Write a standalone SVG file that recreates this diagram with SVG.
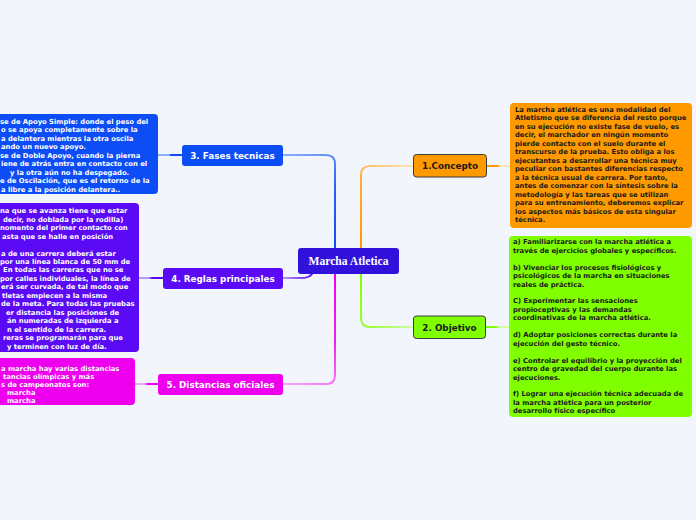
<svg xmlns="http://www.w3.org/2000/svg" width="696" height="520" viewBox="0 0 696 520">
<style>
.body{font-family:"DejaVu Sans",Verdana,sans-serif;font-weight:bold;font-size:6.8px}
.w{fill:#ffffff}
.k{fill:#1a1a1a}
.lbl{font-family:"DejaVu Sans",Verdana,sans-serif;font-weight:bold;font-size:8.8px;text-anchor:middle}
.ctr{font-family:"Liberation Serif","Times New Roman",serif;font-weight:bold;font-size:11.6px;text-anchor:middle;fill:#ffffff}
.con{fill:none;stroke-width:2;stroke-linecap:round}
</style>
<defs>
<linearGradient id="gBlue" gradientUnits="userSpaceOnUse" x1="283" y1="155" x2="335" y2="248"><stop offset="0" stop-color="#8eaefa"/><stop offset="0.5" stop-color="#2a63f6"/><stop offset="1" stop-color="#0d4df5"/></linearGradient>
<linearGradient id="gOrange" gradientUnits="userSpaceOnUse" x1="413" y1="166" x2="361" y2="248"><stop offset="0" stop-color="#fde3bd"/><stop offset="0.4" stop-color="#ffae3a"/><stop offset="1" stop-color="#ff9900"/></linearGradient>
<linearGradient id="gGreen" gradientUnits="userSpaceOnUse" x1="413" y1="327" x2="361" y2="274"><stop offset="0" stop-color="#d2fca6"/><stop offset="0.4" stop-color="#9cff3a"/><stop offset="1" stop-color="#80ff00"/></linearGradient>
<linearGradient id="gPurple" gradientUnits="userSpaceOnUse" x1="283" y1="278" x2="312" y2="274"><stop offset="0" stop-color="#b49af8"/><stop offset="1" stop-color="#5a0af5"/></linearGradient>
<linearGradient id="gMag" gradientUnits="userSpaceOnUse" x1="283" y1="384" x2="335" y2="274"><stop offset="0" stop-color="#f7a6f7"/><stop offset="0.5" stop-color="#ee22ee"/><stop offset="1" stop-color="#ee00ee"/></linearGradient>
<linearGradient id="sBlue" gradientUnits="userSpaceOnUse" x1="158" y1="0" x2="182" y2="0"><stop offset="0.45" stop-color="#8eaefa"/><stop offset="0.55" stop-color="#0d4df5"/></linearGradient>
<linearGradient id="sPurple" gradientUnits="userSpaceOnUse" x1="139" y1="0" x2="163" y2="0"><stop offset="0.4" stop-color="#b49af8"/><stop offset="0.55" stop-color="#5a0af5"/></linearGradient>
<linearGradient id="sMag" gradientUnits="userSpaceOnUse" x1="135" y1="0" x2="158" y2="0"><stop offset="0.4" stop-color="#f7a6f7"/><stop offset="0.55" stop-color="#ee00ee"/></linearGradient>
<linearGradient id="sOrange" gradientUnits="userSpaceOnUse" x1="487" y1="0" x2="510" y2="0"><stop offset="0.45" stop-color="#ff9900"/><stop offset="0.6" stop-color="#fde3bd"/></linearGradient>
<linearGradient id="sGreen" gradientUnits="userSpaceOnUse" x1="485" y1="0" x2="509" y2="0"><stop offset="0.45" stop-color="#80ff00"/><stop offset="0.6" stop-color="#d2fca6"/></linearGradient>
</defs>
<rect x="0" y="0" width="696" height="520" fill="#f3f5fd"/>

<g id="connectors">
<path class="con" stroke="url(#gBlue)" d="M283,155 H326 Q335,155 335,164 V248"/>
<path class="con" stroke="url(#gOrange)" d="M361,248 V175 Q361,166 370,166 H413"/>
<path class="con" stroke="url(#gGreen)" d="M361,274 V318 Q361,327 370,327 H413"/>
<path class="con" stroke="url(#gPurple)" d="M283,278 H301 Q309,278 312,274"/>
<path class="con" stroke="url(#gMag)" d="M335,274 V375 Q335,384 326,384 H283"/>
<path class="con" stroke="url(#sBlue)" d="M158,155 H182"/>
<path class="con" stroke="url(#sPurple)" d="M139,278 H163"/>
<path class="con" stroke="url(#sMag)" d="M135,384 H158"/>
<path class="con" stroke="url(#sOrange)" d="M487,166 H510"/>
<path class="con" stroke="url(#sGreen)" d="M485,327 H509"/>
</g>

<g id="center">
<rect x="298" y="248" width="101" height="26" rx="3" fill="#3311dd"/>
<text class="ctr" x="348.5" y="265">Marcha Atletica</text>
</g>

<g id="fases">
<rect x="182" y="145" width="101" height="21" rx="3" fill="#0d4df5"/>
<text class="lbl w" x="232.5" y="158.5">3. Fases tecnicas</text>
</g>
<g id="fases-detail">
<rect x="-20" y="114" width="178" height="80" rx="4" fill="#0d4df5"/>
<text class="body w">
<tspan x="0" y="123.5">se de Apoyo Simple: donde el peso del</tspan>
<tspan x="1" y="132">o se apoya completamente sobre la</tspan>
<tspan x="1" y="140.5">a delantera mientras la otra oscila</tspan>
<tspan x="1" y="149">ando un nuevo apoyo.</tspan>
<tspan x="0" y="157.5">se de Doble Apoyo, cuando la pierna</tspan>
<tspan x="1" y="166">iene de atrás entra en contacto con el</tspan>
<tspan x="10" y="174.5">y la otra aún no ha despegado.</tspan>
<tspan x="0" y="183">e de Oscilación, que es el retorno de la</tspan>
<tspan x="1" y="191.5">a libre a la posición delantera..</tspan>
</text>
</g>

<g id="reglas">
<rect x="163" y="268" width="120" height="21" rx="3" fill="#5a0af5"/>
<text class="lbl w" x="223" y="281.5">4. Reglas principales</text>
</g>
<g id="reglas-detail">
<rect x="-20" y="203" width="159" height="149" rx="4" fill="#5a0af5"/>
<text class="body w">
<tspan x="0" y="213.3">na que se avanza tiene que estar</tspan>
<tspan x="3" y="221.75">decir, no doblada por la rodilla)</tspan>
<tspan x="0" y="230.2">nomento del primer contacto con</tspan>
<tspan x="2" y="238.65">asta que se halle en posición</tspan>
<tspan x="1" y="255.55">a de una carrera deberá estar</tspan>
<tspan x="0" y="264">por una línea blanca de 50 mm de</tspan>
<tspan x="3" y="272.45">En todas las carreras que no se</tspan>
<tspan x="0" y="280.9">por calles individuales, la línea de</tspan>
<tspan x="1" y="289.35">erá ser curvada, de tal modo que</tspan>
<tspan x="2" y="297.8">tletas empiecen a la misma</tspan>
<tspan x="1" y="306.25">de la meta. Para todas las pruebas</tspan>
<tspan x="6" y="314.7">er distancia las posiciones de</tspan>
<tspan x="7" y="323.15">án numeradas de izquierda a</tspan>
<tspan x="7" y="331.6">n el sentido de la carrera.</tspan>
<tspan x="3" y="340.05">reras se programarán para que</tspan>
<tspan x="7" y="348.5">y terminen con luz de día.</tspan>
</text>
</g>

<g id="distancias">
<rect x="158" y="374" width="125" height="21" rx="3" fill="#ee00ee"/>
<text class="lbl w" x="220.5" y="387.5">5. Distancias oficiales</text>
</g>
<g id="distancias-detail">
<rect x="-20" y="358" width="155" height="47" rx="4" fill="#ee00ee"/>
<text class="body w">
<tspan x="1" y="370.6">a marcha hay varias distancias</tspan>
<tspan x="3" y="378.8">tancias olímpicas y más</tspan>
<tspan x="1" y="387">s de campeonatos son:</tspan>
<tspan x="7" y="395.2">marcha</tspan>
<tspan x="7" y="403.4">marcha</tspan>
</text>
</g>

<g id="concepto">
<rect x="413.5" y="154.5" width="73" height="22.5" rx="3" fill="#ff9900" stroke="#3a3a3a" stroke-width="1"/>
<text class="lbl k" x="450" y="169">1.Concepto</text>
</g>
<g id="concepto-detail">
<rect x="510" y="103" width="182" height="125" rx="4" fill="#ff9900"/>
<text class="body k">
<tspan x="515" y="111.6">La marcha atlética es una modalidad del</tspan>
<tspan x="515" y="120.1">Atletismo que se diferencia del resto porque</tspan>
<tspan x="515" y="128.6">en su ejecución no existe fase de vuelo, es</tspan>
<tspan x="515" y="137.1">decir, el marchador en ningún momento</tspan>
<tspan x="515" y="145.6">pierde contacto con el suelo durante el</tspan>
<tspan x="515" y="154.1">transcurso de la prueba. Esto obliga a los</tspan>
<tspan x="515" y="162.6">ejecutantes a desarrollar una técnica muy</tspan>
<tspan x="515" y="171.1">peculiar con bastantes diferencias respecto</tspan>
<tspan x="515" y="179.6">a la técnica usual de carrera. Por tanto,</tspan>
<tspan x="515" y="188.1">antes de comenzar con la síntesis sobre la</tspan>
<tspan x="515" y="196.6">metodología y las tareas que se utilizan</tspan>
<tspan x="515" y="205.1">para su entrenamiento, deberemos explicar</tspan>
<tspan x="515" y="213.6">los aspectos más básicos de esta singular</tspan>
<tspan x="515" y="222.1">técnica.</tspan>
</text>
</g>

<g id="objetivo">
<rect x="413.5" y="316" width="72" height="22.5" rx="3" fill="#80ff00" stroke="#3a3a3a" stroke-width="1"/>
<text class="lbl k" x="449.5" y="330.5">2. Objetivo</text>
</g>
<g id="objetivo-detail">
<rect x="509" y="236" width="183" height="181" rx="4" fill="#80ff00"/>
<text class="body k">
<tspan x="513" y="244.3">a) Familiarizarse con la marcha atlética a</tspan>
<tspan x="513" y="252.75">través de ejercicios globales y específicos.</tspan>
<tspan x="513" y="269.65">b) Vivenciar los procesos fisiológicos y</tspan>
<tspan x="513" y="278.1">psicológicos de la marcha en situaciones</tspan>
<tspan x="513" y="286.55">reales de práctica.</tspan>
<tspan x="513" y="303.45">C) Experimentar las sensaciones</tspan>
<tspan x="513" y="311.9">propioceptivas y las demandas</tspan>
<tspan x="513" y="320.35">coordinativas de la marcha atlética.</tspan>
<tspan x="513" y="337.25">d) Adoptar posiciones correctas durante la</tspan>
<tspan x="513" y="345.7">ejecución del gesto técnico.</tspan>
<tspan x="513" y="362.6">e) Controlar el equilibrio y la proyección del</tspan>
<tspan x="513" y="371.05">centro de gravedad del cuerpo durante las</tspan>
<tspan x="513" y="379.5">ejecuciones.</tspan>
<tspan x="513" y="396.4">f) Lograr una ejecución técnica adecuada de</tspan>
<tspan x="513" y="404.85">la marcha atlética para un posterior</tspan>
<tspan x="513" y="413.3">desarrollo físico específico</tspan>
</text>
</g>
</svg>
